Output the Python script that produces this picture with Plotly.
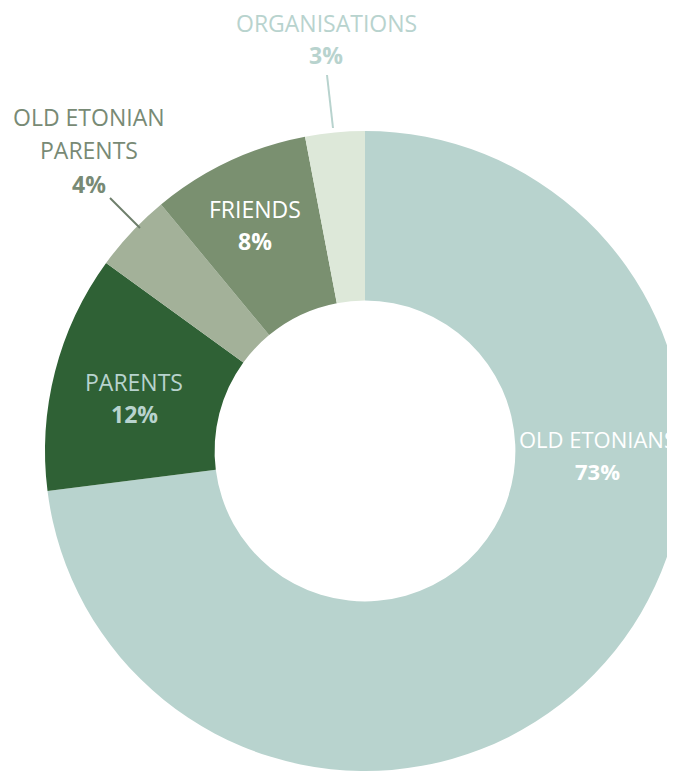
import plotly.graph_objects as go

W, H = 700, 790
OFF = 8  # page body margin in the browser

categories = ["OLD ETONIANS", "PARENTS", "OLD ETONIAN PARENTS", "FRIENDS", "ORGANISATIONS"]
shares = [73, 12, 4, 8, 3]
colors = ["#b8d3ce", "#2f6135", "#a3b199", "#7a9070", "#dde8d9"]

# label layout: (category index, name lines, colour, centre x px, line centre y px list, font size)
label_specs = [
    (0, ["OLD ETONIANS"], "#ffffff", 597, [439, 471], 22),
    (1, ["PARENTS"], "#b8d3ce", 134, [382, 414], 23),
    (2, ["OLD ETONIAN", "PARENTS"], "#788a75", 89, [117, 150, 184], 23),
    (3, ["FRIENDS"], "#ffffff", 255, [209, 241], 23),
    (4, ["ORGANISATIONS"], "#b8d3ce", 326, [23, 55], 23),
]

cx, cy, r = 365, 451, 320


def px(x):
    return (x - OFF) / W


def py(y):
    return 1 - (y - OFF) / H


fig = go.Figure(go.Pie(
    labels=categories,
    values=shares,
    sort=False,
    direction="clockwise",
    rotation=0,
    hole=0.47,
    marker=dict(colors=colors, line=dict(width=0)),
    textinfo="none",
    hoverinfo="label+percent",
    showlegend=False,
    domain=dict(x=[px(cx - r), px(cx + r)],
                y=[py(cy + r), py(cy - r)]),
))

annotations = []
for idx, lines, col, x, ys, fs in label_specs:
    texts = lines + [f"<b>{shares[idx]}%</b>"]
    for t, y in zip(texts, ys):
        annotations.append(dict(
            x=px(x), y=py(y), xref="paper", yref="paper",
            text=t, showarrow=False, xanchor="center", yanchor="middle",
            font=dict(family="Open Sans", size=fs, color=col),
        ))

shapes = [
    dict(type="line", xref="paper", yref="paper",
         x0=px(327), y0=py(75), x1=px(333), y1=py(128),
         line=dict(color="#b8d3ce", width=2)),
    dict(type="line", xref="paper", yref="paper",
         x0=px(110), y0=py(198), x1=px(140), y1=py(228),
         line=dict(color="#6e7e6b", width=2)),
]

fig.update_layout(
    width=W, height=H,
    margin=dict(l=0, r=0, t=0, b=0),
    paper_bgcolor="#ffffff",
    plot_bgcolor="#ffffff",
    annotations=annotations,
    shapes=shapes,
)

fig.write_html("out.html")
